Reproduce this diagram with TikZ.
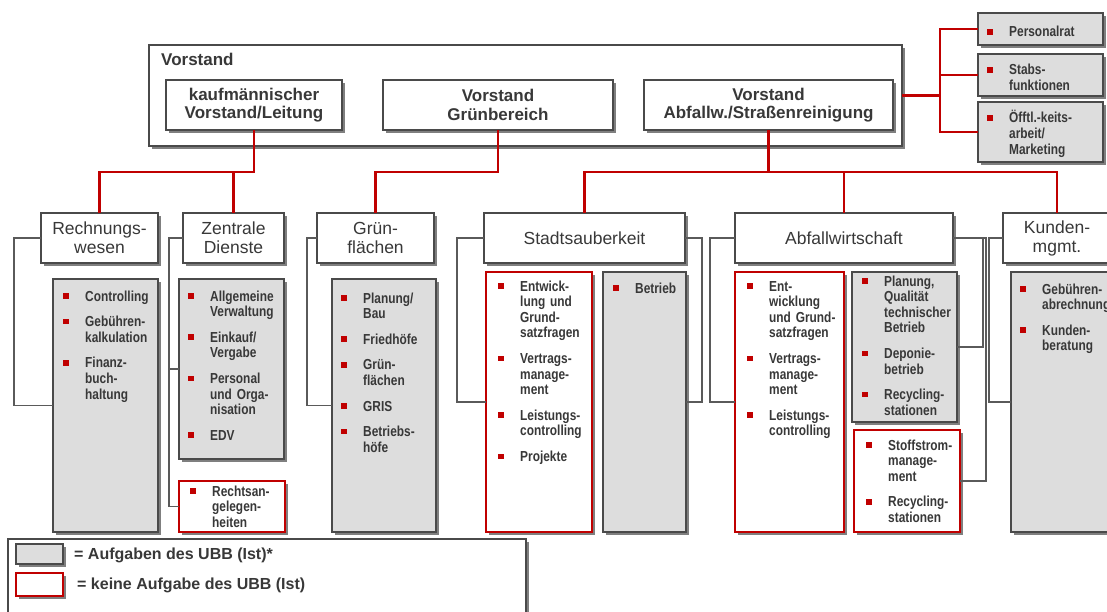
\documentclass[tikz,border=0pt]{standalone}
\usepackage{fontspec}
\setmainfont{Liberation Sans}
\newfontfamily\narrowfont[FakeStretch=0.82]{Liberation Sans}
\usetikzlibrary{shadows}

\definecolor{bred}{HTML}{C00000}
\definecolor{ink}{HTML}{383838}
\definecolor{edge}{HTML}{4A4A4A}
\definecolor{fillg}{HTML}{DDDDDD}
\definecolor{conn}{HTML}{5A5A5A}

% red square bullet hanging left of an item
\newcommand\bul{\leavevmode\llap{\textcolor{bred}{\rule[2.3pt]{5.5pt}{5.5pt}}\hspace{16.5pt}}}
\newcommand\gap{\\[10pt]}

\tikzset{
  panel/.style={rectangle, anchor=north west, inner sep=0pt, outer sep=0pt,
    draw=edge, line width=1.3pt,
    drop shadow={shadow xshift=3pt, shadow yshift=-3pt, fill=black, opacity=0.5}},
  headbox/.style={panel, fill=white, text=ink, align=center,
    font=\bfseries\fontsize{17}{18.5}\selectfont},
  unitbox/.style={panel, fill=white, text=ink, align=center,
    font=\fontsize{17.5}{19}\selectfont},
  taskbox/.style={panel, fill=fillg},
  extbox/.style={panel, fill=white, draw=bred, line width=1.8pt},
  items/.style={anchor=base west, inner sep=0pt, text width=100pt, align=left,
    text=ink, font=\narrowfont\bfseries\fontsize{14.5}{15.6}\selectfont},
  legendtext/.style={anchor=base west, inner sep=0pt, text=ink,
    font=\bfseries\fontsize{16}{18}\selectfont},
  redline/.style={draw=bred, line width=2.8pt},
  grayline/.style={draw=conn, line width=1.2pt},
}

\begin{document}
\begin{tikzpicture}[x=1pt, y=-1pt]
\useasboundingbox (0,0) rectangle (1107,612);
\clip (0,0) rectangle (1107,612);

% ---- board ----
\node[panel, fill=white, minimum width=753pt, minimum height=101pt] (vorstand) at (149,45) {};
\node[anchor=base west, inner sep=0pt, text=ink, font=\bfseries\fontsize{17}{18}\selectfont] (vlabel) at (161,66) {Vorstand};
\node[headbox, minimum width=176pt, minimum height=50pt] (kfm) at (166,80) {kaufmännischer\\Vorstand/Leitung};
\node[headbox, minimum width=230pt, minimum height=50pt] (gb) at (383,80) {Vorstand\\Grünbereich};
\node[headbox, minimum width=249pt, minimum height=50pt] (abf) at (644,80) {Vorstand\\Abfallw./Straßenreinigung};

% ---- staff units ----
\node[taskbox, minimum width=125pt, minimum height=32pt] (pr) at (978,13) {};
\node[taskbox, minimum width=125pt, minimum height=42pt] (sb) at (978,54) {};
\node[taskbox, minimum width=125pt, minimum height=60pt] (oe) at (978,102) {};
\node[items] (prt) at (1009,37) {\bul Personalrat};
\node[items] (sbt) at (1009,75) {\bul Stabs-\\funktionen};
\node[items] (oet) at (1009,123) {\bul Öfftl.-keits-\\arbeit/\\Marketing};

% ---- departments ----
\node[unitbox, minimum width=117pt, minimum height=50pt] (rw) at (41,213) {Rechnungs-\\wesen};
\node[unitbox, minimum width=101pt, minimum height=50pt] (zd) at (183,213) {Zentrale\\Dienste};
\node[unitbox, minimum width=117pt, minimum height=50pt] (gf) at (317,213) {Grün-\\flächen};
\node[unitbox, minimum width=201pt, minimum height=50pt] (st) at (484,213) {Stadtsauberkeit};
\node[unitbox, minimum width=218pt, minimum height=50pt] (aw) at (735,213) {Abfallwirtschaft};
\node[unitbox, minimum width=108pt, minimum height=50pt] (km) at (1003,213) {Kunden-\\mgmt.};

% ---- task boxes ----
\node[taskbox, minimum width=105pt, minimum height=253pt] (ctl) at (53,279) {};
\node[taskbox, minimum width=105pt, minimum height=180pt] (ag) at (179,279) {};
\node[extbox, minimum width=106pt, minimum height=51pt] (ra) at (179,481) {};
\node[taskbox, minimum width=104pt, minimum height=253pt] (pl) at (332,279) {};
\node[extbox, minimum width=106pt, minimum height=260pt] (se) at (486,272) {};
\node[taskbox, minimum width=83pt, minimum height=260pt] (be) at (603,272) {};
\node[extbox, minimum width=109pt, minimum height=260pt] (ae) at (735,272) {};
\node[taskbox, minimum width=105pt, minimum height=150pt] (pq) at (852,272) {};
\node[extbox, minimum width=106pt, minimum height=102pt] (ss) at (854,430) {};
\node[taskbox, minimum width=120pt, minimum height=260pt] (kb) at (1011,272) {};

\node[items] (ctlt) at (85,301) {\bul Controlling\gap\bul Gebühren-\\kalkulation\gap\bul Finanz-\\buch-\\haltung};
\node[items] (agt) at (210,301) {\bul Allgemeine\\Verwaltung\gap\bul Einkauf/\\Vergabe\gap\bul Personal\\und Orga-\\nisation\gap\bul EDV};
\node[items] (rat) at (212,496) {\bul Rechtsan-\\gelegen-\\heiten};
\node[items] (plt) at (363,303) {\bul Planung/\\Bau\gap\bul Friedhöfe\gap\bul Grün-\\flächen\gap\bul GRIS\gap\bul Betriebs-\\höfe};
\node[items] (set) at (520,291) {\bul Entwick-\\lung und\\Grund-\\satzfragen\gap\bul Vertrags-\\manage-\\ment\gap\bul Leistungs-\\controlling\gap\bul Projekte};
\node[items] (bet) at (635,293) {\bul Betrieb};
\node[items] (aet) at (769,291) {\bul Ent-\\wicklung\\und Grund-\\satzfragen\gap\bul Vertrags-\\manage-\\ment\gap\bul Leistungs-\\controlling};
\node[items] (pqt) at (884,286) {\bul Planung,\\Qualität\\technischer\\Betrieb\gap\bul Deponie-\\betrieb\gap\bul Recycling-\\stationen};
\node[items] (sst) at (888,450) {\bul Stoffstrom-\\manage-\\ment\gap\bul Recycling-\\stationen};
\node[items] (kbt) at (1042,294) {\bul Gebühren-\\abrechnung\gap\bul Kunden-\\beratung};

% ---- legend ----
\node[panel, draw=edge, fill=white, drop shadow={opacity=0}, minimum width=518pt, minimum height=100pt] (legend) at (8,539) {};
\node[taskbox, minimum width=47pt, minimum height=20pt] (lg) at (16,544) {};
\node[extbox, minimum width=47pt, minimum height=23pt] (lr) at (16,573) {};
\node[legendtext] (lgt) at (74,559) {= Aufgaben des UBB (Ist)*};
\node[legendtext] (lrt) at (77,589) {= keine Aufgabe des UBB (Ist)};

% ---- red reporting lines ----
\coordinate (bus) at (0,172);
\coordinate (rbus) at (940,0);
\draw[redline] (kfm.south) -- (kfm.south |- bus) -| (rw.north);
\draw[redline] (kfm.south |- bus) -| (zd.north);
\draw[redline] (gb.south) -- (gb.south |- bus) -| (gf.north);
\draw[redline] (abf.south) -- (abf.south |- bus) -| (st.north);
\draw[redline] (abf.south |- bus) -| (aw.north);
\draw[redline] (abf.south |- bus) -| (km.north);
\draw[redline] (vorstand.east) -| (rbus |- pr.west) -- (pr.west);
\draw[redline] (vorstand.east) -| (rbus |- oe.west) -- (oe.west);
\draw[redline] (rbus |- sb.west) -- (sb.west);

% ---- grey brackets to the task boxes ----
\draw[grayline] (rw.west) -- ++(-27,0) |- (ctl.west);
\draw[grayline] (zd.west) -- ++(-14,0) |- (ag.west);
\draw[grayline] (zd.west) -- ++(-14,0) |- (ra.west);
\draw[grayline] (gf.west) -- ++(-10,0) |- (pl.west);
\draw[grayline] (st.west) -- ++(-27,0) |- (se.west);
\draw[grayline] (st.east) -- ++(17,0) |- (be.east);
\draw[grayline] (aw.west) -- ++(-25,0) |- (ae.west);
\draw[grayline] (aw.east) -- ++(30,0) |- (pq.east);
\draw[grayline] (aw.east) -- ++(33,0) |- (ss.east);
\draw[grayline] (km.west) -- ++(-14,0) |- (kb.west);
\end{tikzpicture}
\end{document}
